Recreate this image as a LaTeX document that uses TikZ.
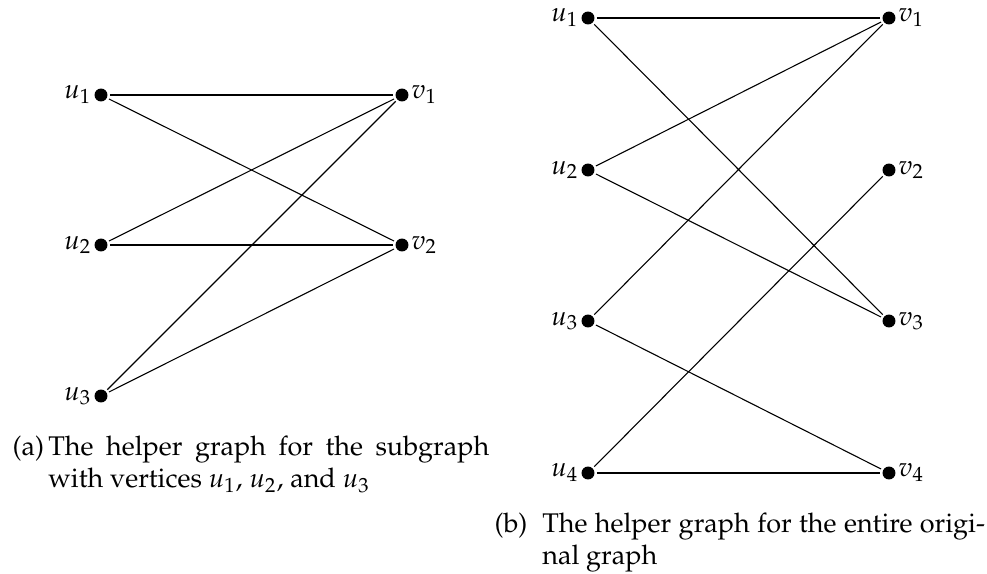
\documentclass[tikz,border=0pt]{standalone}
\usepackage[T1]{fontenc}
\usepackage{mathpazo}
\usepackage{tikz}

\begin{document}
\begin{tikzpicture}[
    x=0.3704pt, y=-0.3704pt,
    vx/.style={circle, fill, minimum size=4.8pt, inner sep=0pt, outer sep=0.9pt},
    every label/.style={inner sep=0pt},
    captext/.style={anchor=base west, inner sep=0pt},
  ]
  \useasboundingbox (0,0) rectangle (987,574);
  \node[vx, label=left:$u_1$] (ua1) at (101, 95) {};
  \node[vx, label=left:$u_2$] (ua2) at (101, 245) {};
  \node[vx, label=left:$u_3$] (ua3) at (101, 396) {};
  \node[vx, label=right:$v_1$] (va1) at (402, 95) {};
  \node[vx, label=right:$v_2$] (va2) at (402, 245) {};
  \draw (ua1) -- (va1);
  \draw (ua1) -- (va2);
  \draw (ua2) -- (va1);
  \draw (ua2) -- (va2);
  \draw (ua3) -- (va1);
  \draw (ua3) -- (va2);
  \node[captext] (capa) at (12, 455) {\makebox[13.3pt][l]{(a)}\parbox[t]{163.3pt}{The
    helper graph for the subgraph\linebreak with vertices $u_1$, $u_2$, and $u_3$}};
  \node[vx, label=left:$u_1$] (ub1) at (588, 18) {};
  \node[vx, label=left:$u_2$] (ub2) at (588, 170) {};
  \node[vx, label=left:$u_3$] (ub3) at (588, 321) {};
  \node[vx, label=left:$u_4$] (ub4) at (588, 473) {};
  \node[vx, label=right:$v_1$] (vb1) at (889, 18) {};
  \node[vx, label=right:$v_2$] (vb2) at (889, 170) {};
  \node[vx, label=right:$v_3$] (vb3) at (889, 321) {};
  \node[vx, label=right:$v_4$] (vb4) at (889, 473) {};
  \draw (ub1) -- (vb1);
  \draw (ub1) -- (vb3);
  \draw (ub2) -- (vb1);
  \draw (ub2) -- (vb3);
  \draw (ub3) -- (vb1);
  \draw (ub3) -- (vb4);
  \draw (ub4) -- (vb2);
  \draw (ub4) -- (vb4);
  \node[captext] (capb) at (494, 532) {\makebox[17.7pt][l]{(b)}\parbox[t]{164pt}{The
    helper graph for the entire origi-\linebreak nal graph}};
\end{tikzpicture}
\end{document}
